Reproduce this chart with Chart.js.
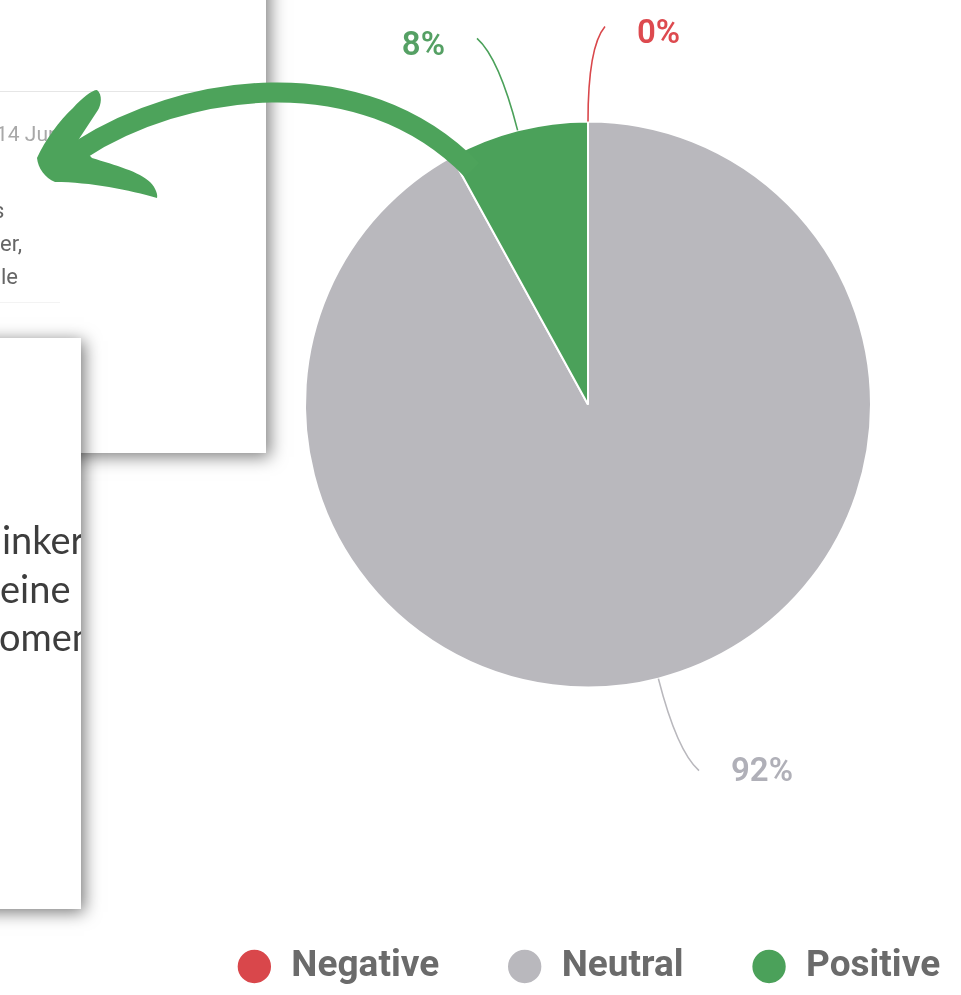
<!DOCTYPE html>
<html>
<head>
<meta charset="utf-8">
<script src="https://cdn.jsdelivr.net/npm/chart.js@4/dist/chart.umd.min.js"></script>
<style>
  html, body { margin: 0; padding: 0; background: #fff; overflow: hidden; }
  body { width: 961px; height: 995px; position: relative; }
  .card { position: absolute; background: #fff; overflow: hidden; }
  .card div { position: absolute; white-space: nowrap; line-height: 1; }
  #card1 { left: -30px; top: -30px; width: 296px; height: 483px; box-shadow: 4px 4px 16px rgba(0,0,0,0.5); z-index: 1; }
  #card2 { left: -30px; top: 338px; width: 111px; height: 571px; box-shadow: 3px 3px 16px rgba(0,0,0,0.55); z-index: 2; }
  #chartBox { position: absolute; left: 155px; top: 0; width: 866px; height: 995px; }
  #arrow { position: absolute; left: 0; top: 0; z-index: 3; pointer-events: none; }
</style>
</head>
<body>

<div class="card" id="card1">
  <div style="left:30px; top:121px; width:300px; height:1px; background:#e6e6e6;"></div>
  <div style="left:26px; top:152px; font:21px Roboto; color:#a8a8a8;">14 Jun</div>
  <div style="left:23px; top:228px; font:22px Roboto; color:#666;">s</div>
  <div style="left:30px; top:261px; font:22px Roboto; color:#666;">er,</div>
  <div style="left:31px; top:294px; font:22px Roboto; color:#666;">le</div>
  <div style="left:30px; top:332px; width:60px; height:1px; background:#f3f3f3;"></div>
</div>

<div class="card" id="card2">
  <div style="left:32px; top:178px; font:38px Lato; color:#3d3d3d;">inker</div>
  <div style="left:30px; top:227px; font:38px Lato; color:#3d3d3d;">eine</div>
  <div style="left:29px; top:275px; font:38px Lato; color:#3d3d3d;">omen</div>
</div>

<div id="chartBox"><canvas id="myChart"></canvas></div>

<svg id="arrow" width="961" height="995" viewBox="0 0 961 995">
  <path d="M 472,170 C 360,55 180,85 80,150" fill="none" stroke="#4da35b" stroke-width="20" stroke-linejoin="round"/>
  <path d="M 37,158 C 45,140 60,120 73,108 C 82,98 92,90 97,90 C 103,95 101,105 98,110 L 77,142 L 92,158 C 115,165 140,172 150,182 C 156,188 158,195 157,198 C 130,190 90,182 55,182 C 45,178 38,168 37,158 Z" fill="#4da35b"/>
</svg>

<script>
const sentiments = ['Negative', 'Neutral', 'Positive'];
const shares = [0, 92, 8];
const sliceColors = ['#d9474b', '#b9b8bd', '#4ba15a'];
const labelColors = ['#dd4a4f', '#b0b0b8', '#55a064'];

// draws the % labels with curved leader lines, positions come from the arcs
const leaderLabels = {
    id: 'leaderLabels',
    afterDatasetsDraw(chart) {
        const ctx = chart.ctx;
        const meta = chart.getDatasetMeta(0);
        const data = chart.data.datasets[0].data;
        const total = data.reduce((a, b) => a + b, 0);
        meta.data.forEach((arc, i) => {
            const p = arc.getProps(['x', 'y', 'startAngle', 'endAngle', 'outerRadius'], true);
            const mid = (p.startAngle + p.endAngle) / 2;
            const cos = Math.cos(mid), sin = Math.sin(mid);
            const side = cos >= -1e-9 ? 1 : -1;
            const r = p.outerRadius;
            const x0 = p.x + cos * r, y0 = p.y + sin * r;
            const x1 = p.x + cos * (r + 75), y1 = p.y + sin * (r + 75);
            const x2 = p.x + cos * (r + 95) + side * 17, y2 = p.y + sin * (r + 95);
            ctx.save();
            ctx.strokeStyle = sliceColors[i];
            ctx.lineWidth = 1.6;
            ctx.beginPath();
            ctx.moveTo(x0, y0);
            ctx.quadraticCurveTo(x1, y1, x2, y2);
            ctx.stroke();
            ctx.fillStyle = labelColors[i];
            ctx.font = '600 33px Roboto';
            ctx.textAlign = side > 0 ? 'left' : 'right';
            ctx.textBaseline = 'middle';
            ctx.fillText(Math.round(data[i] / total * 100) + '%', x2 + side * 32, y2 + 5 - 3 * sin);
            ctx.restore();
        });
    }
};

const ctx = document.getElementById('myChart').getContext('2d');
const myChart = new Chart(ctx, {
    type: 'pie',
    data: {
        labels: sentiments,
        datasets: [{
            data: shares,
            backgroundColor: sliceColors,
            borderColor: '#fff',
            borderWidth: 2,
            radius: 283
        }]
    },
    options: {
        responsive: true,
        maintainAspectRatio: false,
        animation: false,
        events: [],
        layout: { padding: 0 },
        plugins: {
            tooltip: { enabled: false },
            title: {
                display: true,
                text: '',
                position: 'bottom',
                weight: 500,
                font: { size: 10, lineHeight: 1 },
                padding: { top: 62, bottom: 0 }
            },
            legend: {
                position: 'bottom',
                weight: 1000,
                labels: {
                    usePointStyle: true,
                    pointStyle: 'circle',
                    boxWidth: 37,
                    boxHeight: 25,
                    padding: 67,
                    color: '#6b6b6b',
                    font: { family: 'Roboto', size: 37, weight: 'bold' }
                }
            }
        }
    },
    plugins: [leaderLabels]
});
</script>
</body>
</html>
